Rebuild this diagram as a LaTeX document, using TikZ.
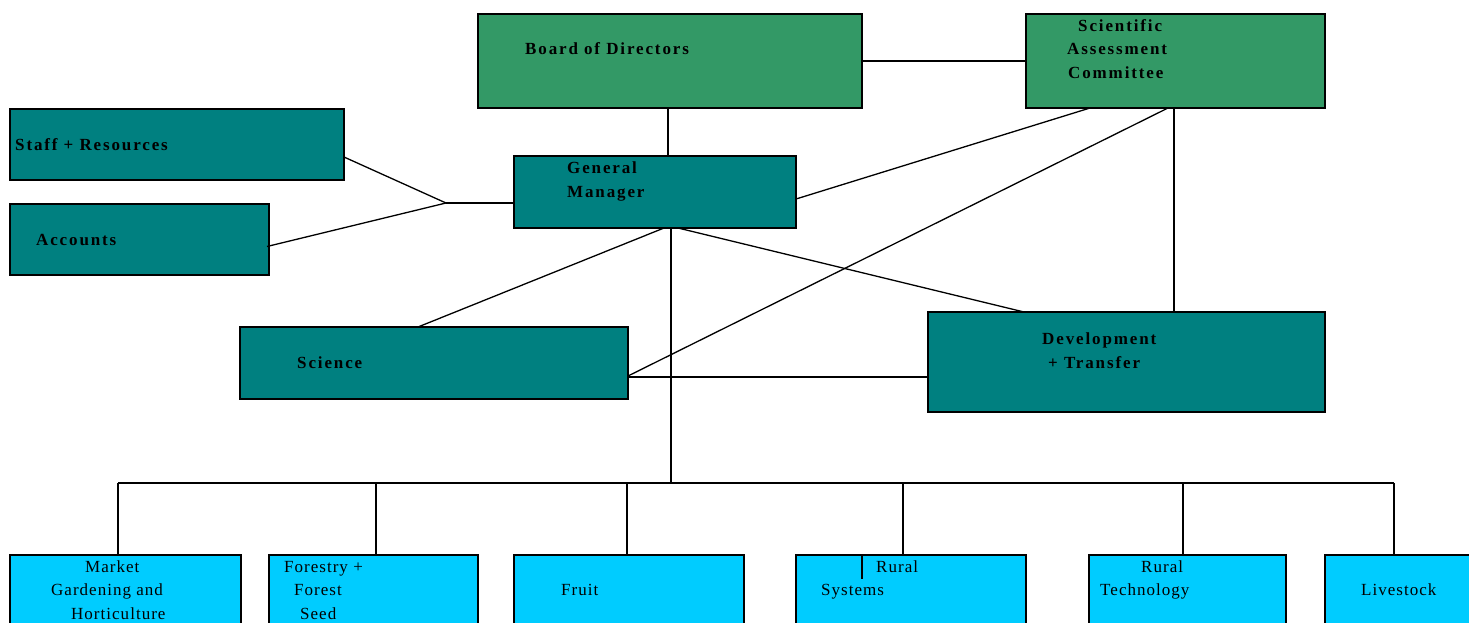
\documentclass[tikz,border=0pt]{standalone}
\usepackage{fontspec}
\setmainfont{Liberation Serif}
\usetikzlibrary{calc}
\definecolor{boardgreen}{RGB}{51,153,102}
\definecolor{tealbox}{RGB}{0,128,128}
\definecolor{skybox}{RGB}{0,204,255}
\tikzset{
  box/.style={draw=black, line width=2.1pt, rectangle, inner sep=0pt, outer sep=0pt, anchor=north west},
  greenbox/.style={box, fill=boardgreen},
  tealb/.style={box, fill=tealbox},
  skyb/.style={box, fill=skybox},
  link/.style={draw=black, line width=1.3pt},
  btxt/.style={anchor=base west, inner sep=0pt, font=\fontsize{17}{23}\selectfont\bfseries\addfontfeature{LetterSpace=11}},
  rtxt/.style={anchor=base west, inner sep=0pt, font=\fontsize{17}{23}\selectfont\addfontfeature{LetterSpace=6}}
}
\begin{document}
\begin{tikzpicture}[x=1pt,y=-1pt]
\clip (0,0) rectangle (1469,623);
\fill[white] (0,0) rectangle (1469,623);
% boxes
\node[greenbox, minimum width=384, minimum height=94] (board) at (478,14) {};
\node[greenbox, minimum width=299, minimum height=94] (sac) at (1026,14) {};
\node[tealb, minimum width=334, minimum height=71] (staff) at (10,109) {};
\node[tealb, minimum width=259, minimum height=71] (acc) at (10,204) {};
\node[tealb, minimum width=282, minimum height=72] (gm) at (514,156) {};
\node[tealb, minimum width=388, minimum height=72] (sci) at (240,327) {};
\node[tealb, minimum width=397, minimum height=100] (dev) at (928,312) {};
\node[skyb, minimum width=231, minimum height=90] (mg) at (10,555) {};
\node[skyb, minimum width=209, minimum height=90] (fo) at (269,555) {};
\node[skyb, minimum width=230, minimum height=90] (fr) at (514,555) {};
\node[skyb, minimum width=230, minimum height=90] (rs) at (796,555) {};
\node[skyb, minimum width=197, minimum height=90] (rt) at (1089,555) {};
\node[skyb, minimum width=170, minimum height=90] (ls) at (1325,555) {};
% connectors
\coordinate (jn) at (446,203);
\coordinate (bus) at (671,483);
\draw[link] (board.east |- 0,61) -- (sac.west |- 0,61);
\draw[link] (board.south -| 668,0) -- (gm.north -| 668,0);
\draw[link] (staff.east |- 0,157) -- (jn);
\draw[link] ($(acc.east)+(-2,7)$) -- (jn);
\draw[link] (jn) -- (gm.west |- jn);
\draw[link] (gm.east |- 0,199) -- (sac.south -| 1090,0);
\draw[link] (sac.south -| 1168,0) -- (sci.east |- 0,376);
\draw[link] (sac.south -| 1174,0) -- (dev.north -| 1174,0);
\draw[link] (gm.south -| 664,0) -- (sci.north -| 418,0);
\draw[link] (gm.south -| 678,0) -- (dev.north -| 1024,0);
\draw[link] (sci.east |- 0,377) -- (dev.west |- 0,377);
\draw[link] (gm.south -| bus) -- (bus);
\draw[link] (118,483) -- (1394,483);
\draw[link] (mg.north -| 118,0) -- (118,483);
\draw[link] (fo.north -| 376,0) -- (376,483);
\draw[link] (fr.north -| 627,0) -- (627,483);
\draw[link] (rs.north -| 903,0) -- (903,483);
\draw[link] (rt.north -| 1183,0) -- (1183,483);
\draw[link] (ls.north -| 1394,0) -- (1394,483);
\draw[draw=black, line width=2.4pt] (rs.north -| 862,0) -- ($(rs.north -| 862,0)+(0,24)$);
% texts
\node[btxt] (tboard) at (525,55) {Board of Directors};
\node[btxt] (tsac1) at (1078,32) {Scientific};
\node[btxt] (tsac2) at (1067,55) {Assessment};
\node[btxt] (tsac3) at (1068,79) {Committee};
\node[btxt] (tstaff) at (15,150) {Staff + Resources};
\node[btxt] (tacc) at (36,245) {Accounts};
\node[btxt] (tgm1) at (567,173) {General};
\node[btxt] (tgm2) at (567,197) {Manager};
\node[btxt] (tsci) at (297,368) {Science};
\node[btxt] (tdev1) at (1042,344) {Development};
\node[btxt] (tdev2) at (1048,368) {+ Transfer};
\node[rtxt] (tmg1) at (85,572) {Market};
\node[rtxt] (tmg2) at (51,595) {Gardening and};
\node[rtxt] (tmg3) at (71,619) {Horticulture};
\node[rtxt] (tfo1) at (284,572) {Forestry +};
\node[rtxt] (tfo2) at (294,595) {Forest};
\node[rtxt] (tfo3) at (300,619) {Seed};
\node[rtxt] (tfr) at (561,595) {Fruit};
\node[rtxt] (trs1) at (876,572) {Rural};
\node[rtxt] (trs2) at (821,595) {Systems};
\node[rtxt] (trt1) at (1141,572) {Rural};
\node[rtxt] (trt2) at (1100,595) {Technology};
\node[rtxt] (tls) at (1361,595) {Livestock};
\end{tikzpicture}
\end{document}
